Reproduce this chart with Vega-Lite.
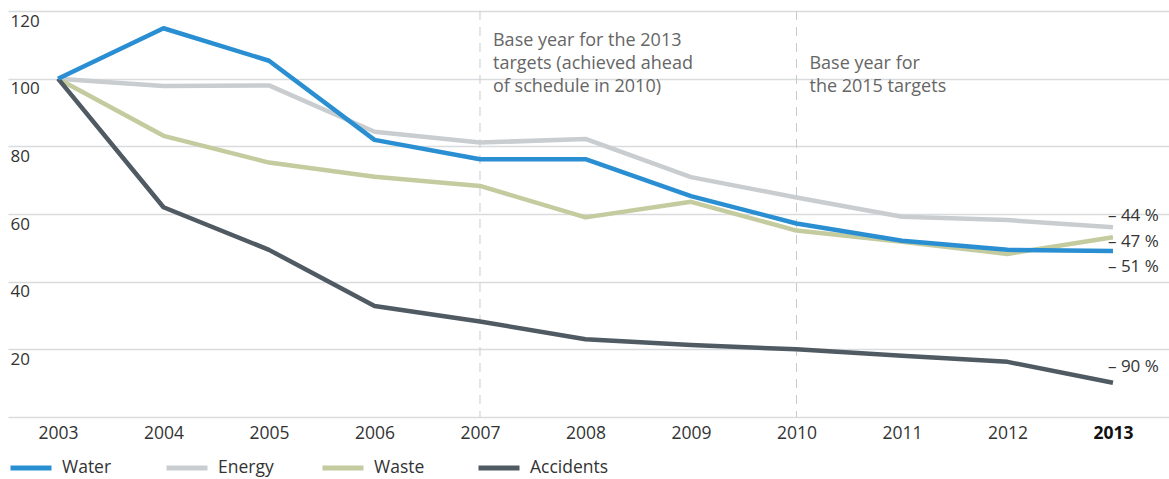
{
  "$schema": "https://vega.github.io/schema/vega-lite/v6.json",
  "width": 1161,
  "height": 406,
  "autosize": "none",
  "padding": {"left": 8, "top": 11, "right": 0, "bottom": 62},
  "background": "white",
  "config": {
    "view": {"stroke": null},
    "font": "Open Sans",
    "axis": {"labelFont": "Open Sans", "labelColor": "#333333", "labelFontSize": 14}
  },
  "datasets": {
    "series": [
      {"year": 2003, "series": "Energy", "value": 100},
      {"year": 2004, "series": "Energy", "value": 97.8},
      {"year": 2005, "series": "Energy", "value": 98},
      {"year": 2006, "series": "Energy", "value": 84.3},
      {"year": 2007, "series": "Energy", "value": 81.1},
      {"year": 2008, "series": "Energy", "value": 82.2},
      {"year": 2009, "series": "Energy", "value": 70.9},
      {"year": 2010, "series": "Energy", "value": 64.9},
      {"year": 2011, "series": "Energy", "value": 59.2},
      {"year": 2012, "series": "Energy", "value": 58.2},
      {"year": 2013, "series": "Energy", "value": 56.1},
      {"year": 2003, "series": "Waste", "value": 100},
      {"year": 2004, "series": "Waste", "value": 83.1},
      {"year": 2005, "series": "Waste", "value": 75.2},
      {"year": 2006, "series": "Waste", "value": 71},
      {"year": 2007, "series": "Waste", "value": 68.3},
      {"year": 2008, "series": "Waste", "value": 59},
      {"year": 2009, "series": "Waste", "value": 63.6},
      {"year": 2010, "series": "Waste", "value": 55.1},
      {"year": 2011, "series": "Waste", "value": 51.8},
      {"year": 2012, "series": "Waste", "value": 48.2},
      {"year": 2013, "series": "Waste", "value": 53.1},
      {"year": 2003, "series": "Accidents", "value": 100},
      {"year": 2004, "series": "Accidents", "value": 62},
      {"year": 2005, "series": "Accidents", "value": 49.4},
      {"year": 2006, "series": "Accidents", "value": 32.8},
      {"year": 2007, "series": "Accidents", "value": 28.2},
      {"year": 2008, "series": "Accidents", "value": 23},
      {"year": 2009, "series": "Accidents", "value": 21.3},
      {"year": 2010, "series": "Accidents", "value": 20},
      {"year": 2011, "series": "Accidents", "value": 18.1},
      {"year": 2012, "series": "Accidents", "value": 16.3},
      {"year": 2013, "series": "Accidents", "value": 10.1},
      {"year": 2003, "series": "Water", "value": 100},
      {"year": 2004, "series": "Water", "value": 114.9},
      {"year": 2005, "series": "Water", "value": 105.3},
      {"year": 2006, "series": "Water", "value": 81.9},
      {"year": 2007, "series": "Water", "value": 76.2},
      {"year": 2008, "series": "Water", "value": 76.2},
      {"year": 2009, "series": "Water", "value": 65.3},
      {"year": 2010, "series": "Water", "value": 57.2},
      {"year": 2011, "series": "Water", "value": 52.1},
      {"year": 2012, "series": "Water", "value": 49.4},
      {"year": 2013, "series": "Water", "value": 49.1}
    ],
    "markers": [{"year": 2007}, {"year": 2010}],
    "notes": [
      {"year": 2007, "y": 113.7, "text": ["Base year for the 2013", "targets (achieved ahead", "of schedule in 2010)"]},
      {"year": 2010, "y": 106.9, "text": ["Base year for", "the 2015 targets"]}
    ],
    "ends": [
      {"year": 2013, "y": 59.3, "text": "– 44 %"},
      {"year": 2013, "y": 51.8, "text": "– 47 %"},
      {"year": 2013, "y": 44.4, "text": "– 51 %"},
      {"year": 2013, "y": 14.9, "text": "– 90 %"}
    ]
  },
  "layer": [
    {
      "data": {"name": "markers"},
      "mark": {"type": "rule", "color": "#c9cbcd", "strokeWidth": 1, "strokeDash": [9, 7]},
      "encoding": {
        "x": {"field": "year", "type": "quantitative", "scale": {"domain": [2002.526, 2013.531], "nice": false, "zero": false}}
      }
    },
    {
      "data": {"name": "series"},
      "mark": {"type": "line", "strokeWidth": 4.5, "strokeJoin": "round", "strokeCap": "butt"},
      "encoding": {
        "x": {
          "field": "year", "type": "quantitative",
          "scale": {"domain": [2002.526, 2013.531], "nice": false, "zero": false},
          "axis": {
            "values": [2003, 2004, 2005, 2006, 2007, 2008, 2009, 2010, 2011, 2012, 2013],
            "format": "d", "title": null, "grid": false, "domain": false, "ticks": false,
            "labelPadding": 7, "labelFontSize": 17.5,
            "labelFontWeight": {"condition": {"test": "datum.value == 2013", "value": "bold"}, "value": "normal"},
            "labelColor": {"condition": {"test": "datum.value == 2013", "value": "#111111"}, "value": "#333333"}
          }
        },
        "y": {
          "field": "value", "type": "quantitative",
          "scale": {"domain": [0, 120], "nice": false},
          "axis": {
            "values": [0, 20, 40, 60, 80, 100, 120],
            "title": null, "domain": false, "ticks": false, "tickSize": 0,
            "grid": true, "gridColor": "#d9dcdf", "gridWidth": 1.5,
            "labelAlign": "left", "labelBaseline": "top", "labelPadding": -2, "labelOffset": 2,
            "labelFontSize": 17,
            "labelExpr": "datum.value == 0 ? '' : datum.label"
          }
        },
        "color": {
          "field": "series", "type": "nominal",
          "scale": {"domain": ["Water", "Energy", "Waste", "Accidents"], "range": ["#2a8fd2", "#c9cdd0", "#c4cb9f", "#4f5a62"]},
          "legend": {
            "title": null, "orient": "none", "legendX": 0, "legendY": 434,
            "direction": "horizontal", "columns": 4, "gridAlign": "all", "columnPadding": 15,
            "symbolType": "stroke", "symbolSize": 1681, "symbolStrokeWidth": 5,
            "labelFont": "Open Sans", "labelFontSize": 17.5, "labelColor": "#333333", "labelOffset": 8
          }
        }
      }
    },
    {
      "data": {"name": "notes"},
      "mark": {"type": "text", "align": "left", "baseline": "top", "dx": 13, "fontSize": 18, "lineHeight": 23, "color": "#666666", "font": "Open Sans"},
      "encoding": {
        "x": {"field": "year", "type": "quantitative", "scale": {"domain": [2002.526, 2013.531], "nice": false, "zero": false}},
        "y": {"field": "y", "type": "quantitative", "scale": {"domain": [0, 120], "nice": false}},
        "text": {"field": "text"}
      }
    },
    {
      "data": {"name": "ends"},
      "mark": {"type": "text", "align": "left", "baseline": "middle", "dx": -5, "fontSize": 17, "color": "#333333", "font": "Open Sans"},
      "encoding": {
        "x": {"field": "year", "type": "quantitative", "scale": {"domain": [2002.526, 2013.531], "nice": false, "zero": false}},
        "y": {"field": "y", "type": "quantitative", "scale": {"domain": [0, 120], "nice": false}},
        "text": {"field": "text"}
      }
    }
  ]
}
